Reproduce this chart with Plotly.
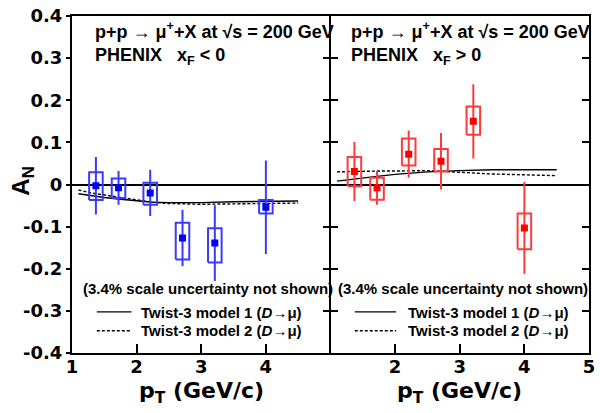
import plotly.graph_objects as go

# ---- data: single-muon transverse single-spin asymmetry A_N vs pT ----
pt = [1.37, 1.72, 2.21, 2.71, 3.21, 4.00]

# backward (xF < 0)
an_bwd = [-0.003, -0.008, -0.020, -0.127, -0.139, -0.054]
stat_bwd = [0.068, 0.040, 0.055, 0.067, 0.090, 0.111]
sys_up_bwd = [0.032, 0.022, 0.024, 0.036, 0.035, 0.017]
sys_dn_bwd = [0.034, 0.024, 0.028, 0.051, 0.046, 0.015]

# forward (xF > 0)
an_fwd = [0.031, -0.008, 0.072, 0.055, 0.150, -0.103]
stat_fwd = [0.070, 0.040, 0.056, 0.067, 0.088, 0.109]
sys_up_fwd = [0.034, 0.024, 0.037, 0.029, 0.035, 0.034]
sys_dn_fwd = [0.035, 0.028, 0.027, 0.024, 0.032, 0.051]

# twist-3 model curves (D -> mu)
pt_model = [1.1, 1.3, 1.5, 1.75, 2.0, 2.25, 2.5, 3.0, 3.5, 4.0, 4.5]
m1_bwd = [-0.022, -0.027, -0.031, -0.035, -0.039, -0.042, -0.043, -0.043, -0.041, -0.040, -0.039]
m2_bwd = [-0.013, -0.020, -0.025, -0.031, -0.037, -0.042, -0.045, -0.047, -0.046, -0.045, -0.044]
m1_fwd = [0.008, 0.012, 0.016, 0.020, 0.024, 0.027, 0.030, 0.033, 0.035, 0.035, 0.035]
m2_fwd = [0.030, 0.031, 0.031, 0.032, 0.032, 0.033, 0.033, 0.029, 0.025, 0.023, 0.021]

y_ticks = [0.4, 0.3, 0.2, 0.1, 0, -0.1, -0.2, -0.3, -0.4]
y_labels = ["0.4", "0.3", "0.2", "0.1", "0", "-0.1", "-0.2", "-0.3", "-0.4"]

# ---- styling ----
BOX_HALF_WIDTH = 0.105
BLUE_MARK, BLUE_LINE = "#0000ff", "#3a3aff"
RED_MARK, RED_LINE = "#ff0000", "#ff3a3a"
TICK_FONT = dict(family="DejaVu Sans", size=18, color="black", weight="bold")
TXT = "Liberation Sans"

fig = go.Figure()


def sys_boxes(x, y, up, dn):
    xs, ys = [], []
    for xi, yi, u, d in zip(x, y, up, dn):
        lo, hi = yi - d, yi + u
        xs += [xi - BOX_HALF_WIDTH, xi + BOX_HALF_WIDTH, xi + BOX_HALF_WIDTH,
               xi - BOX_HALF_WIDTH, xi - BOX_HALF_WIDTH, None]
        ys += [lo, lo, hi, hi, lo, None]
    return xs, ys


def add_panel(xa, ya, an, stat, up, dn, m1, m2, mark_col, line_col):
    # model curves
    fig.add_trace(go.Scatter(x=pt_model, y=m1, mode="lines", xaxis=xa, yaxis=ya,
                             line=dict(color="black", width=1.4), hoverinfo="skip"))
    fig.add_trace(go.Scatter(x=pt_model, y=m2, mode="lines", xaxis=xa, yaxis=ya,
                             line=dict(color="black", width=1.4, dash="3px,2px"),
                             hoverinfo="skip"))
    # systematic boxes
    bx, by = sys_boxes(pt, an, up, dn)
    fig.add_trace(go.Scatter(x=bx, y=by, mode="lines", xaxis=xa, yaxis=ya,
                             line=dict(color=line_col, width=2), hoverinfo="skip"))
    # points with statistical errors
    fig.add_trace(go.Scatter(
        x=pt, y=an, mode="markers", xaxis=xa, yaxis=ya,
        marker=dict(symbol="square", size=7, color=mark_col),
        error_y=dict(type="data", array=stat, visible=True, color=line_col,
                     thickness=2, width=0)))


add_panel("x", "y", an_bwd, stat_bwd, sys_up_bwd, sys_dn_bwd, m1_bwd, m2_bwd,
          BLUE_MARK, BLUE_LINE)
add_panel("x2", "y2", an_fwd, stat_fwd, sys_up_fwd, sys_dn_fwd, m1_fwd, m2_fwd,
          RED_MARK, RED_LINE)

common_x = dict(range=[1, 5], showgrid=False, zeroline=False, showline=True,
                linecolor="black", linewidth=2, mirror=True, ticks="inside",
                ticklen=9, tickwidth=1.5, tickcolor="black", tickfont=TICK_FONT,
                ticklabelstandoff=-4)
common_y = dict(range=[-0.4, 0.4], showgrid=False, tickvals=y_ticks, ticktext=y_labels,
                linecolor="black", linewidth=2, tickcolor="black", tickwidth=1.5,
                tickfont=TICK_FONT)

fig.update_layout(
    width=600, height=413,
    margin=dict(l=72, r=5, t=14, b=60),
    paper_bgcolor="white", plot_bgcolor="white",
    showlegend=False,
    xaxis=dict(domain=[0, 0.5], anchor="y", tickvals=[1, 2, 3, 4],
               ticktext=["1", "2", "3", "4"], **common_x),
    xaxis2=dict(domain=[0.5, 1], anchor="y2", tickvals=[2, 3, 4, 5],
                ticktext=["2", "3", "4", "5"], **common_x),
    yaxis=dict(anchor="x", showline=True, mirror=False, ticks="outside", ticklen=4,
               zeroline=True, zerolinecolor="black", zerolinewidth=1.5, **common_y),
    yaxis3=dict(anchor="x", overlaying="y", side="right", showline=False,
                ticks="inside", ticklen=8, showticklabels=False, zeroline=False,
                **common_y),
    yaxis2=dict(anchor="x2", showline=True, mirror="allticks", ticks="inside",
                ticklen=7, showticklabels=False, zeroline=True,
                zerolinecolor="black", zerolinewidth=1.5, **common_y),
)
# keep yaxis3 visible even without traces
fig.add_trace(go.Scatter(x=[None], y=[None], xaxis="x", yaxis="y3", hoverinfo="skip"))

hdr = dict(family=TXT, size=18, color="black", weight="bold")
leg = dict(family=TXT, size=15, color="black", weight="bold")

annotations = []
for x0, sign in [(0.041, "&lt;"), (0.536, "&gt;")]:
    annotations.append(dict(xref="paper", yref="paper", x=x0, y=0.956,
                            xanchor="left", yanchor="middle", showarrow=False,
                            text="p+p → μ<sup>+</sup>+X at √s = 200 GeV", font=hdr))
    annotations.append(dict(xref="paper", yref="paper", x=x0, y=0.879,
                            xanchor="left", yanchor="middle", showarrow=False,
                            text=f"PHENIX   x<sub>F</sub> {sign} 0", font=hdr))

for xc, xs in [(0.263, 0.130), (0.757, 0.646)]:
    annotations.append(dict(xref="paper", yref="paper", x=xc, y=0.192,
                            xanchor="center", yanchor="middle", showarrow=False,
                            text="(3.4% scale uncertainty not shown)", font=leg))
    annotations.append(dict(xref="paper", yref="paper", x=xs, y=0.121,
                            xanchor="left", yanchor="middle", showarrow=False,
                            text="Twist-3 model 1 (<i>D</i>→μ)", font=leg))
    annotations.append(dict(xref="paper", yref="paper", x=xs, y=0.067,
                            xanchor="left", yanchor="middle", showarrow=False,
                            text="Twist-3 model 2 (<i>D</i>→μ)", font=leg))

# axis titles
ttl = dict(family="DejaVu Sans", size=22, color="black", weight="bold")
for xc in [0.25, 0.75]:
    annotations.append(dict(xref="paper", yref="paper", x=xc, y=-0.118,
                            xanchor="center", yanchor="middle", showarrow=False,
                            text="p<sub>T</sub> (GeV/c)", font=ttl))
annotations.append(dict(xref="paper", yref="paper", x=-0.0956, y=0.51,
                        xanchor="center", yanchor="middle", showarrow=False,
                        textangle=-90, text="A<sub>N</sub>",
                        font=dict(family=TXT, size=24, color="black", weight="bold")))
fig.update_layout(annotations=annotations)

# legend line samples
for (x0, x1) in [(0.048, 0.115), (0.547, 0.627)]:
    fig.add_shape(type="line", xref="paper", yref="paper", x0=x0, x1=x1,
                  y0=0.122, y1=0.122, line=dict(color="black", width=1.4))
    fig.add_shape(type="line", xref="paper", yref="paper", x0=x0, x1=x1,
                  y0=0.066, y1=0.066, line=dict(color="black", width=1.4, dash="3px,2px"))

fig.write_html("out.html")
